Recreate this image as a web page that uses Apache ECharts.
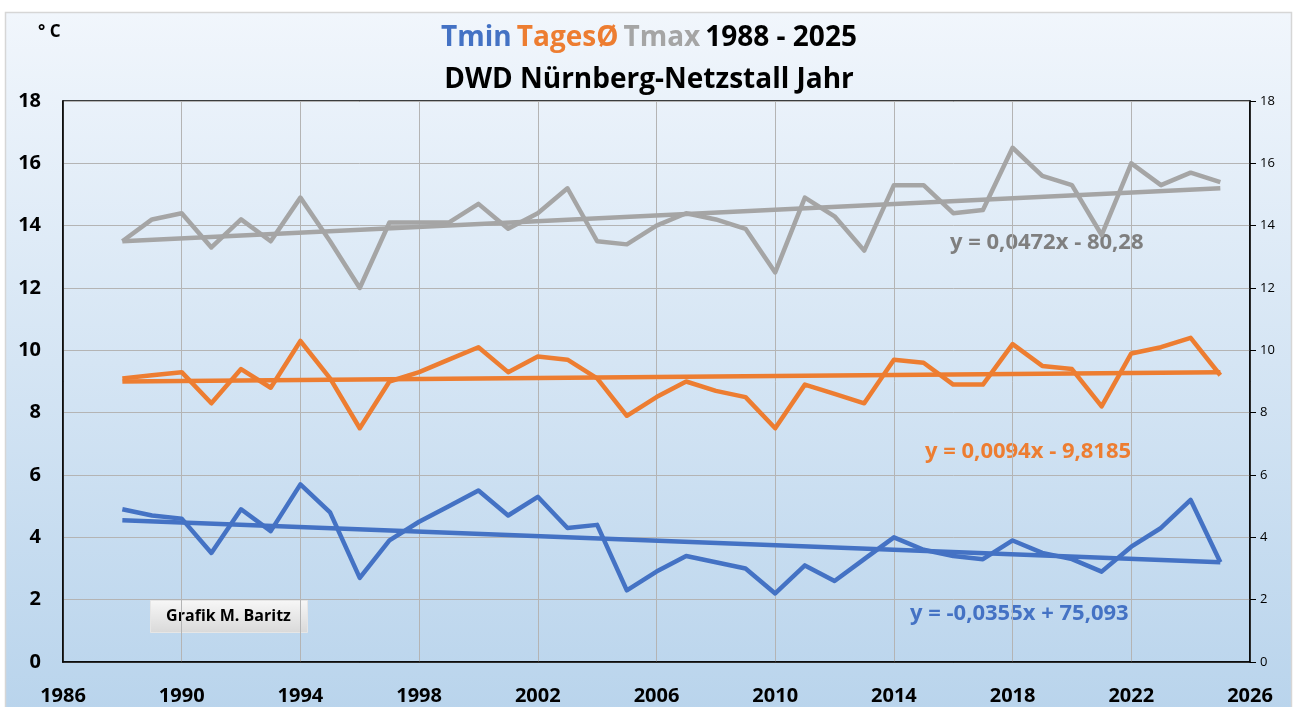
<!DOCTYPE html>
<html>
<head>
<meta charset="utf-8">
<title>DWD Nürnberg-Netzstall Jahr</title>
<script src="https://cdn.jsdelivr.net/npm/echarts@6/dist/echarts.min.js"></script>
<style>
html,body{margin:0;padding:0;background:#fff;}
#chart{width:1298px;height:707px;}
</style>
</head>
<body>
<div id="chart"></div>
<script>

// years and yearly means
const years = [1988,1989,1990,1991,1992,1993,1994,1995,1996,1997,1998,1999,2000,2001,2002,2003,2004,2005,2006,
  2007,2008,2009,2010,2011,2012,2013,2014,2015,2016,2017,2018,2019,2020,2021,2022,2023,2024,2025]

const tmin = [4.9,4.7,4.6,3.5,4.9,4.2,5.7,4.8,2.7,3.9,4.5,5.0,5.5,4.7,5.3,4.3,4.4,2.3,2.9,
  3.4,3.2,3.0,2.2,3.1,2.6,3.3,4.0,3.6,3.4,3.3,3.9,3.5,3.3,2.9,3.7,4.3,5.2,3.2]

const tmean = [9.1,9.2,9.3,8.3,9.4,8.8,10.3,9.1,7.5,9.0,9.3,9.7,10.1,9.3,9.8,9.7,9.1,7.9,8.5,
  9.0,8.7,8.5,7.5,8.9,8.6,8.3,9.7,9.6,8.9,8.9,10.2,9.5,9.4,8.2,9.9,10.1,10.4,9.2]

const tmax = [13.5,14.2,14.4,13.3,14.2,13.5,14.9,13.5,12.0,14.1,14.1,14.1,14.7,13.9,14.4,15.2,13.5,13.4,14.0,
  14.4,14.2,13.9,12.5,14.9,14.3,13.2,15.3,15.3,14.4,14.5,16.5,15.6,15.3,13.7,16.0,15.3,15.7,15.4]

// trend line end points (1988, 2025)
const trendYears = [1988, 2025]
const tminTrend = [4.55, 3.2]
const tmeanTrend = [9.0, 9.3]
const tmaxTrend = [13.5, 15.2]

const xTicks = [1986,1990,1994,1998,2002,2006,2010,2014,2018,2022,2026]
const yTicks = [0,2,4,6,8,10,12,14,16,18]

const BLUE = "#4472c4"
const ORANGE = "#ed7d31"
const GRAY = "#a5a5a5"

const FONT = "'Open Sans', 'Noto Sans', sans-serif"

function pairs(xs, ys){
  return xs.map((x,i)=>[x, ys[i]])
}

function lineSeries(name, xs, ys, color){
  return {
    name: name,
    type: "line",
    data: pairs(xs, ys),
    symbol: "none",
    lineStyle: { color: color, width: 4.5, join: "round" },
    itemStyle: { color: color },
    z: 3
  }
}

function titleStyle(color){
  return { color: color, fontSize: 28, fontWeight: "bold", fontFamily: FONT, lineHeight: 42 }
}

const chart = echarts.init(document.getElementById("chart"), null, { renderer: "canvas" })

chart.setOption({
  backgroundColor: "#ffffff",
  animation: false,

  title: {
    left: "center",
    top: 12,
    text: "{b|Tmin} {o|TagesØ} {g|Tmax} {k|1988 - 2025}\n{k|DWD Nürnberg-Netzstall Jahr}",
    textStyle: {
      rich: {
        b: titleStyle(BLUE),
        o: titleStyle(ORANGE),
        g: titleStyle(GRAY),
        k: titleStyle("#000")
      }
    }
  },

  graphic: [
    {
      type: "rect",
      z: -10,
      shape: { x: 5.5, y: 12.5, width: 1286, height: 700 },
      style: {
        fill: new echarts.graphic.LinearGradient(0, 0, 0, 1, [
          { offset: 0, color: "#f1f6fc" },
          { offset: 1, color: "#b9d4ec" }
        ]),
        stroke: "#d6d6d6",
        lineWidth: 1.5
      },
      silent: true
    },
    {
      type: "text",
      x: 38, y: 32,
      style: { text: "° C", fill: "#000", font: "bold 17px " + FONT, verticalAlign: "middle" }
    },
    {
      type: "text",
      x: 950, y: 243,
      style: { text: "y = 0,0472x - 80,28", fill: "#7f7f7f", font: "bold 22px " + FONT, verticalAlign: "middle" }
    },
    {
      type: "text",
      x: 925, y: 452,
      style: { text: "y = 0,0094x - 9,8185", fill: ORANGE, font: "bold 22px " + FONT, verticalAlign: "middle" }
    },
    {
      type: "text",
      x: 910, y: 614,
      style: { text: "y = -0,0355x + 75,093", fill: BLUE, font: "bold 22px " + FONT, verticalAlign: "middle" }
    },
    {
      type: "group",
      left: 150, top: 600,
      children: [
        {
          type: "rect",
          shape: { x: 0, y: 0, width: 157, height: 32 },
          style: {
            fill: new echarts.graphic.LinearGradient(0, 0, 0, 1, [
              { offset: 0, color: "#f7f7f7" },
              { offset: 1, color: "#d9d9d9" }
            ]),
            stroke: "#e6e6e6"
          }
        },
        {
          type: "text",
          x: 78, y: 16,
          style: { text: "Grafik M. Baritz", fill: "#000", font: "bold 16px " + FONT, align: "center", verticalAlign: "middle" }
        }
      ]
    }
  ],

  grid: {
    left: 63, right: 48, top: 101, bottom: 45,
    show: true,
    borderColor: "#000",
    borderWidth: 1.5,
    backgroundColor: "transparent"
  },

  xAxis: {
    type: "value",
    min: xTicks[0],
    max: xTicks[xTicks.length-1],
    interval: 4,
    axisLine: { show: true, lineStyle: { color: "#000", width: 1.5 } },
    axisTick: { show: false },
    splitLine: { show: true, lineStyle: { color: "#b4b4b4", width: 1 } },
    axisLabel: {
      color: "#000", fontSize: 20, fontWeight: "bold", fontFamily: FONT, margin: 24,
      formatter: v => xTicks.includes(v) ? String(v) : ""
    }
  },

  yAxis: [
    {
      type: "value",
      min: yTicks[0],
      max: yTicks[yTicks.length-1],
      interval: 2,
      position: "left",
      axisLine: { show: true, lineStyle: { color: "#000", width: 1.5 } },
      axisTick: { show: false },
      splitLine: { show: true, lineStyle: { color: "#b4b4b4", width: 1 } },
      axisLabel: { color: "#000", fontSize: 20, fontWeight: "bold", fontFamily: FONT, margin: 22 }
    },
    {
      type: "value",
      min: yTicks[0],
      max: yTicks[yTicks.length-1],
      interval: 2,
      position: "right",
      axisLine: { show: true, lineStyle: { color: "#000", width: 1.5 } },
      axisTick: { show: true, length: 6, lineStyle: { color: "#000" } },
      splitLine: { show: false },
      axisLabel: { color: "#000", fontSize: 13, fontFamily: FONT, margin: 10 }
    }
  ],

  series: [
    lineSeries("Tmax", years, tmax, GRAY),
    lineSeries("Tmax Trend", trendYears, tmaxTrend, GRAY),
    lineSeries("TagesØ", years, tmean, ORANGE),
    lineSeries("TagesØ Trend", trendYears, tmeanTrend, ORANGE),
    lineSeries("Tmin", years, tmin, BLUE),
    lineSeries("Tmin Trend", trendYears, tminTrend, BLUE)
  ]
})

</script>
</body>
</html>
